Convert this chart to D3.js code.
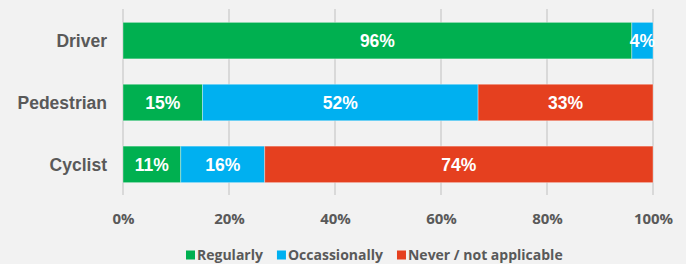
<!DOCTYPE html>
<html>
<head>
<meta charset="utf-8">
<script src="https://cdn.jsdelivr.net/npm/d3@7"></script>
<style>
  body { margin: 0; background: #f2f2f2; }
</style>
</head>
<body>
<div class="chart"></div>
<script>
// data
const categories = ['Driver', 'Pedestrian', 'Cyclist'];
const seriesNames = ['Regularly', 'Occassionally', 'Never / not applicable'];
const regularly = [96, 15, 11];
const occasionally = [4, 52, 16];
const never = [0, 33, 74];
const tickLabels = ['0%', '20%', '40%', '60%', '80%', '100%'];
const colors = ['#00b050', '#00b0f0', '#e5401f'];

const width = 686;
const height = 264;
const margin = {top: 10, left: 123, right: 33, bottom: 69};

const rows = categories.map((c, i) => ({
  cat: c,
  [seriesNames[0]]: regularly[i],
  [seriesNames[1]]: occasionally[i],
  [seriesNames[2]]: never[i]
}));

// rows are normalised to 100% (cyclist sums to 101)
const stacked = d3.stack().keys(seriesNames).offset(d3.stackOffsetExpand)(rows);

const x = d3.scaleLinear().domain([0, 1]).range([margin.left, width - margin.right]);
const y = d3.scaleBand().domain(categories)
  .range([margin.top, height - margin.bottom])
  .paddingInner(0.41).paddingOuter(0.2);
const color = d3.scaleOrdinal().domain(seriesNames).range(colors);

const svg = d3.select('.chart').append('svg')
  .attr('width', width).attr('height', height)
  .style('background', '#f2f2f2');

// gridlines
svg.append('g').selectAll('line').data(d3.range(0, 1.01, 0.2))
  .enter().append('line')
  .attr('x1', d => x(d)).attr('x2', d => x(d))
  .attr('y1', margin.top - 1).attr('y2', height - margin.bottom)
  .attr('stroke', '#d9d9d9').attr('stroke-width', 2);

// bars
const layers = svg.selectAll('.layer').data(stacked)
  .enter().append('g')
  .attr('class', 'layer')
  .attr('fill', d => color(d.key));

layers.selectAll('rect').data(d => d)
  .enter().append('rect')
  .filter(d => d[1] - d[0] > 0)
  .attr('x', d => x(d[0]))
  .attr('y', d => y(d.data.cat))
  .attr('width', d => x(d[1]) - x(d[0]))
  .attr('height', y.bandwidth())
  .attr('stroke', 'rgba(255,255,255,0.35)')
  .attr('stroke-width', 1);

// value labels
stacked.forEach(layer => {
  svg.append('g').selectAll('text').data(layer.filter(d => d.data[layer.key] > 0))
    .enter().append('text')
    .attr('x', d => (x(d[0]) + x(d[1])) / 2)
    .attr('y', d => y(d.data.cat) + y.bandwidth() / 2)
    .attr('dy', '0.36em')
    .attr('text-anchor', 'middle')
    .attr('font-family', 'Liberation Sans, Arial, sans-serif')
    .attr('font-weight', 'bold')
    .attr('font-size', 17.5)
    .attr('fill', '#fff')
    .text(d => d.data[layer.key] + '%');
});

// category labels
svg.append('g').selectAll('text').data(categories)
  .enter().append('text')
  .attr('x', 107)
  .attr('y', d => y(d) + y.bandwidth() / 2)
  .attr('dy', '0.36em')
  .attr('text-anchor', 'end')
  .attr('font-family', 'Liberation Sans, Arial, sans-serif')
  .attr('font-weight', 'bold')
  .attr('font-size', 17.5)
  .attr('fill', '#595959')
  .text(d => d);

// x axis
const axis = svg.append('g')
  .attr('transform', 'translate(0, 218.5)')
  .call(d3.axisBottom(x).tickValues(d3.range(0, 1.01, 0.2))
    .tickFormat((d, i) => tickLabels[i]).tickSize(0).tickPadding(0));
axis.select('.domain').remove();
axis.selectAll('text')
  .attr('y', 0)
  .attr('dy', '0.36em')
  .attr('font-family', 'Open Sans, sans-serif')
  .attr('font-weight', 'bold')
  .attr('font-size', 15)
  .attr('fill', '#595959');

// legend - items laid out one after another, starting at x 186
const legend = svg.append('g').selectAll('g').data(seriesNames)
  .enter().append('g');
legend.append('rect')
  .attr('x', 0).attr('y', -4.5)
  .attr('width', 9).attr('height', 9)
  .attr('fill', d => color(d));
legend.append('text')
  .attr('x', 11)
  .attr('dy', '0.36em')
  .attr('font-family', 'Open Sans, sans-serif')
  .attr('font-weight', 'bold')
  .attr('font-size', 14)
  .attr('fill', '#595959')
  .text(d => d);
let lx = 186;
legend.each(function() {
  const g = d3.select(this);
  g.attr('transform', `translate(${lx}, 255)`);
  lx += 11 + g.select('text').node().getComputedTextLength() + 14;
});
</script>
</body>
</html>
